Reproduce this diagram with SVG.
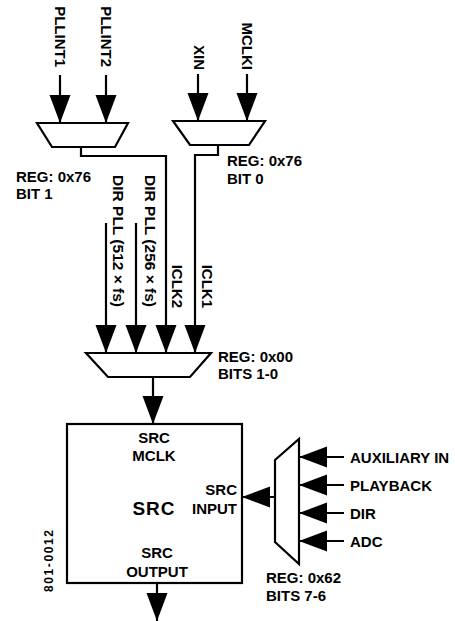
<svg xmlns="http://www.w3.org/2000/svg" width="455" height="621" viewBox="0 0 455 621">
<style>
text{font-family:"Liberation Sans",Arial,sans-serif;font-weight:bold;font-size:15px;fill:#000}
.shape{fill:#fff;stroke:#000;stroke-width:2.2}
.wire{fill:none;stroke:#000;stroke-width:2.2}
.big{font-size:19px;letter-spacing:1px}
.small{font-size:12px;letter-spacing:1.6px}
.dir{font-size:15.5px}
.mid{text-anchor:middle}
.end{text-anchor:end}
</style>
<defs>
<marker id="ah" markerUnits="userSpaceOnUse" markerWidth="28" markerHeight="22" refX="28" refY="10.5" orient="auto" viewBox="0 0 28 21">
<path d="M0,0 L28,10.5 L0,21 Z" fill="#000"/>
</marker>
</defs>
<rect width="455" height="621" fill="#fff"/>
<g id="connectors">
<line class="wire" x1="60" y1="75" x2="60" y2="123" marker-end="url(#ah)"/>
<line class="wire" x1="106" y1="75" x2="106" y2="123" marker-end="url(#ah)"/>
<line class="wire" x1="198" y1="74" x2="198" y2="121" marker-end="url(#ah)"/>
<line class="wire" x1="247" y1="74" x2="247" y2="121" marker-end="url(#ah)"/>
<polyline class="wire" points="81,147 81,156 166,156 166,353" marker-end="url(#ah)"/>
<polyline class="wire" points="218,145 218,155 195,155 195,353" marker-end="url(#ah)"/>
<line class="wire" x1="106" y1="223" x2="106" y2="353" marker-end="url(#ah)"/>
<line class="wire" x1="136" y1="223" x2="136" y2="353" marker-end="url(#ah)"/>
<line class="wire" x1="153" y1="377" x2="153" y2="424" marker-end="url(#ah)"/>
<line class="wire" x1="275" y1="497" x2="242" y2="497" marker-end="url(#ah)"/>
<line class="wire" x1="344" y1="457" x2="299" y2="457" marker-end="url(#ah)"/>
<line class="wire" x1="344" y1="485" x2="299" y2="485" marker-end="url(#ah)"/>
<line class="wire" x1="344" y1="513" x2="299" y2="513" marker-end="url(#ah)"/>
<line class="wire" x1="344" y1="541" x2="299" y2="541" marker-end="url(#ah)"/>
<line class="wire" x1="157" y1="583" x2="157" y2="621" marker-end="url(#ah)"/>
</g>
<g id="inputs-top">
<text class="end" transform="translate(54.5,67) rotate(90)">PLLINT1</text>
<text class="end" transform="translate(100.5,67) rotate(90)">PLLINT2</text>
<text class="end" transform="translate(194,70) rotate(90)">XIN</text>
<text class="end" transform="translate(241.5,70) rotate(90)">MCLKI</text>
</g>
<g id="mux1">
<polygon class="shape" points="37,123 128,123 115,147 52,147"/>
<text x="16" y="182">REG: 0x76</text>
<text x="16" y="199">BIT 1</text>
</g>
<g id="mux2">
<polygon class="shape" points="173,121 265,121 249,145 190,145"/>
<text x="227" y="166">REG: 0x76</text>
<text x="227" y="184">BIT 0</text>
</g>
<g id="clock-labels">
<text class="end dir" transform="translate(112.5,307) rotate(90)">DIR PLL (512 × fs)</text>
<text class="end dir" transform="translate(144.5,307) rotate(90)">DIR PLL (256 × fs)</text>
<text class="end" transform="translate(172,308) rotate(90)">ICLK2</text>
<text class="end" transform="translate(202,308) rotate(90)">ICLK1</text>
</g>
<g id="mux3">
<polygon class="shape" points="86,353 211,353 190,377 108,377"/>
<text x="218" y="362">REG: 0x00</text>
<text x="218" y="379">BITS 1-0</text>
</g>
<g id="src">
<rect class="shape" x="67" y="424" width="175" height="159"/>
<text class="mid" x="154" y="443">SRC</text>
<text class="mid" x="154" y="461">MCLK</text>
<text class="mid big" x="154" y="515">SRC</text>
<text class="end" x="237" y="495">SRC</text>
<text class="end" x="237" y="514">INPUT</text>
<text class="mid" x="157" y="558">SRC</text>
<text class="mid" x="157" y="577">OUTPUT</text>
</g>
<g id="mux4">
<polygon class="shape" points="275,460 299,439 299,564 275,542"/>
<text x="266" y="583">REG: 0x62</text>
<text x="266" y="601">BITS 7-6</text>
</g>
<g id="inputs-right">
<text x="350" y="463">AUXILIARY IN</text>
<text x="350" y="491">PLAYBACK</text>
<text x="350" y="519">DIR</text>
<text x="350" y="547">ADC</text>
</g>
<g id="figure-id">
<text class="small" transform="translate(53,592) rotate(-90)">801-0012</text>
</g>
</svg>
